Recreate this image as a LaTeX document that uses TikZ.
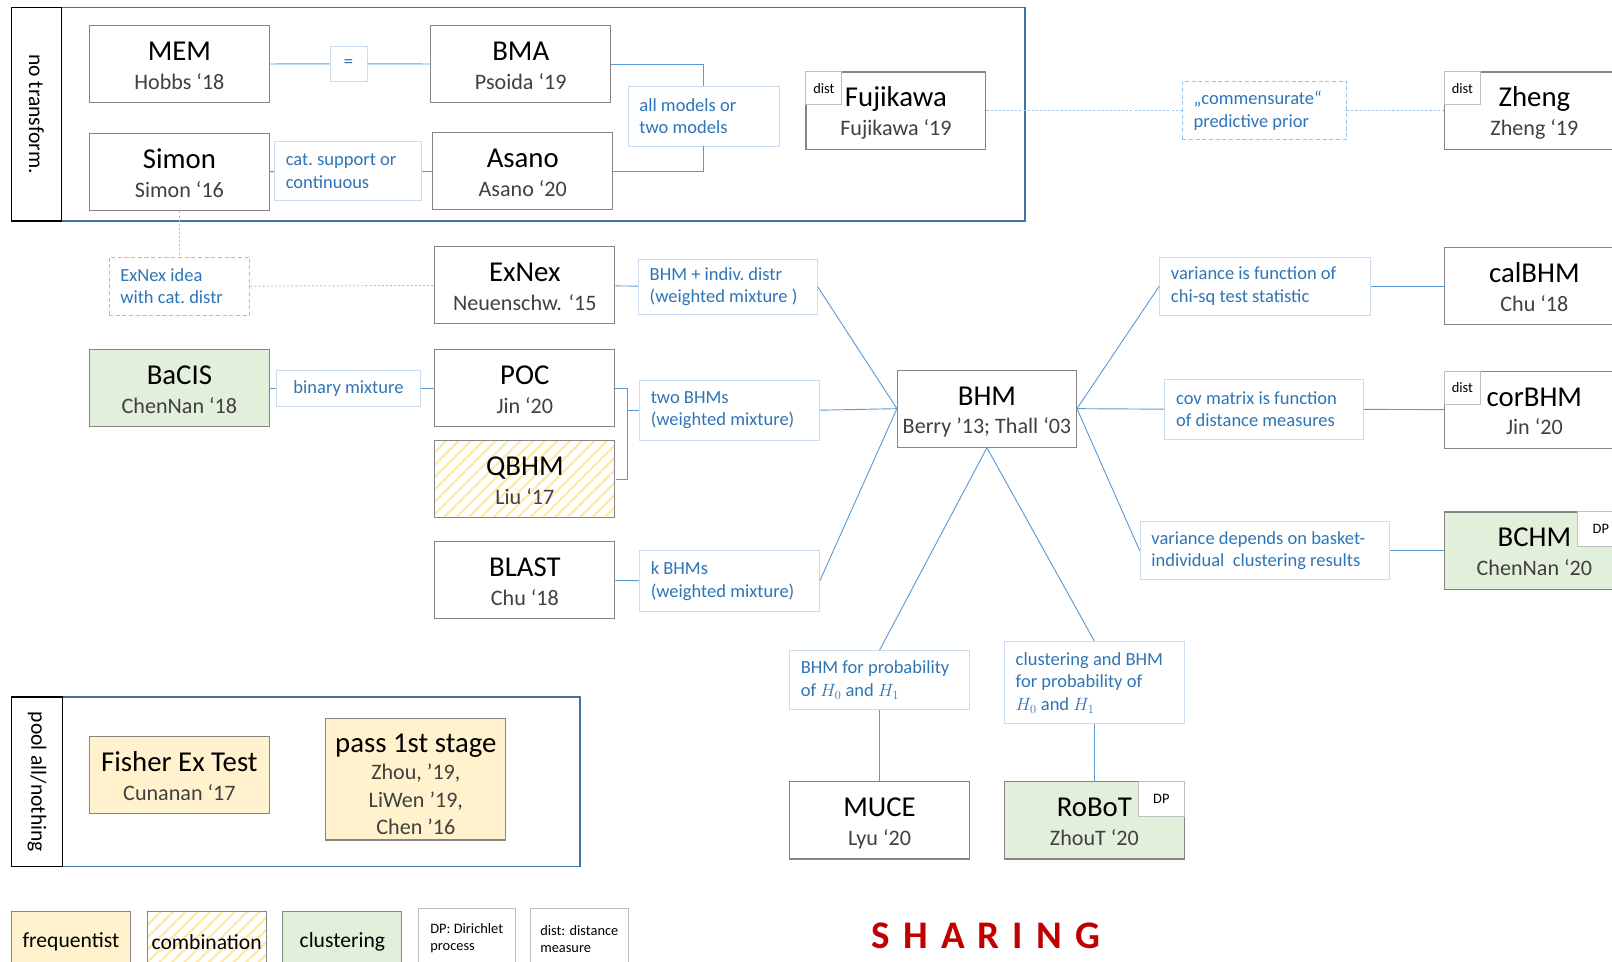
\documentclass[tikz,border=0pt]{standalone}
\usepackage{fontspec}
\setmainfont{Carlito}
\usepackage{xcolor}
\usepackage{tikz}
\usetikzlibrary{positioning,patterns.meta}

\definecolor{boxgrey}{HTML}{858585}
\definecolor{taggrey}{HTML}{BFBFBF}
\definecolor{subgrey}{HTML}{404040}
\definecolor{labblue}{HTML}{2E75B6}
\definecolor{labedge}{HTML}{CCDDF0}
\definecolor{linkblue}{HTML}{5B9BD5}
\definecolor{dashblue}{HTML}{9DC3E6}
\definecolor{frameblue}{HTML}{41719C}
\definecolor{clustgreen}{HTML}{E2EFDA}
\definecolor{freqyellow}{HTML}{FFF2CC}
\definecolor{hatchyellow}{HTML}{FFE9A6}
\definecolor{sharered}{HTML}{C00000}

\newcommand{\titlefont}{\fontsize{28}{28}\selectfont\color{black}}
\newcommand{\subfont}{\fontsize{21.5}{28}\selectfont}
% title line + year line of a model box
\newcommand{\boxtext}[2]{{\titlefont\rule{0pt}{25pt}#1}\\#2\rule[-4pt]{0pt}{4pt}}

\begin{document}
\begin{tikzpicture}[x=1pt,y=-1pt,
                      main node/.style={draw=boxgrey,line width=1.1pt,fill=white,minimum width=175pt,minimum height=75pt,
                                        align=center,inner sep=0pt,text=subgrey,font=\subfont},
                      green node/.style={main node,fill=clustgreen},
                      freq node/.style={main node,fill=freqyellow},
                      hatch fill/.style={preaction={fill=white},pattern={Lines[angle=45,distance=8.5pt,line width=2.2pt]},pattern color=hatchyellow},
                      tag node/.style={draw=taggrey,line width=0.9pt,fill=white,inner sep=0pt,text=black,font=\fontsize{14}{14}\selectfont},
                      note node/.style={draw=labedge,line width=0.9pt,fill=white,text=labblue,align=flush left,inner xsep=11pt,inner ysep=0pt,
                                        font=\fontsize{18}{22}\selectfont\frenchspacing},
                      dashed note/.style={note node,draw=dashblue,dash pattern=on 4pt off 2.5pt},
                      link/.style={draw=linkblue,line width=0.9pt},
                      dot link/.style={draw=dashblue,line width=0.9pt,dash pattern=on 2pt off 2pt},
                      frame/.style={draw=frameblue,line width=1.3pt},
                      side node/.style={draw=black,line width=1.3pt,rotate=-90,inner sep=0pt,font=\fontsize{21}{21}\selectfont},
                      legend node/.style={draw=boxgrey,line width=1pt,minimum width=116pt,minimum height=58pt,inner sep=0pt,
                                          font=\fontsize{21}{21}\selectfont}]
    \useasboundingbox (0,0) rectangle (1568,935);

    % groups
    \draw[frame] (11,7) rectangle (997,215);
    \draw[frame] (11,678) rectangle (564,843);
    \node[side node,minimum width=208pt,minimum height=49pt] (notrans) at (35.5,111) {no transform.};
    \node[side node,minimum width=165pt,minimum height=50pt] (poolall) at (36,760.5) {pool all/nothing};

    % models
    \node[main node] (mem) at (174.5,62.5) {\boxtext{MEM}{Hobbs ‘18}};
    \node[main node, below=29pt of mem] (simon) {\boxtext{Simon}{Simon ‘16}};
    \node[main node] (bma) at (506.5,62.5) {\boxtext{BMA}{Psoida ‘19}};
    \node[main node] (asano) at (508.5,166.5) {\boxtext{Asano}{Asano ‘20}};
    \node[main node] (fuji) at (871.5,107.5) {\boxtext{Fujikawa}{Fujikawa ‘19}};
    \node[main node] (zheng) at (1492.5,107.5) {\boxtext{Zheng}{Zheng ‘19}};

    \node[main node] (poc) at (510.5,377.5) {\boxtext{POC}{Jin ‘20}};
    \node[main node, above=24pt of poc] (exnex) {\boxtext{ExNex}{Neuenschw. ‘15}};
    \node[main node, hatch fill, below=12pt of poc] (qbhm) {\boxtext{QBHM}{Liu ‘17}};
    \node[main node] (blast) at (510.5,564.5) {\boxtext{BLAST}{Chu ‘18}};
    \node[green node] (bacis) at (174.5,377.5) {\boxtext{BaCIS}{ChenNan ‘18}};

    \node[main node,minimum width=174pt] (bhm) at (960,397.5) {\boxtext{BHM}{Berry ’13; Thall ‘03}};

    \node[main node] (calbhm) at (1492.5,278.5) {\boxtext{calBHM}{Chu ‘18}};
    \node[main node, below=44pt of calbhm] (corbhm) {\boxtext{corBHM}{Jin ‘20}};
    \node[green node] (bchm) at (1492.5,535.5) {\boxtext{BCHM}{ChenNan ‘20}};
    \node[main node] (muce) at (855.5,798) {\boxtext{MUCE}{Lyu ‘20}};
    \node[green node] (robot) at (1064.5,798) {\boxtext{RoBoT}{ZhouT ‘20}};

    \node[freq node] (fisher) at (174.5,754) {\boxtext{Fisher Ex Test}{Cunanan ‘17}};
    \node[freq node,minimum height=118pt,font=\fontsize{21.5}{26.5}\selectfont] (pass) at (404.5,758)
      {{\titlefont\rule{0pt}{31pt}pass 1st stage}\\Zhou, ’19,\\LiWen ’19,\\Chen ’16\rule[-3.5pt]{0pt}{3.5pt}};

    % dist / DP tags
    \node[tag node,anchor=north west,minimum width=35pt,minimum height=32pt] (fujidist) at (fuji.north west) {dist};
    \node[tag node,anchor=north west,minimum width=35pt,minimum height=32pt] (zhengdist) at (zheng.north west) {dist};
    \node[tag node,anchor=north west,minimum width=35pt,minimum height=32pt] (cordist) at (corbhm.north west) {dist};
    \node[tag node,anchor=north east,minimum width=46pt,minimum height=34pt] (bchmdp) at (bchm.north east) {DP};
    \node[tag node,anchor=north east,minimum width=45pt,minimum height=34pt] (robotdp) at (robot.north east) {DP};

    % notes
    \node[note node,align=center,minimum width=36pt,minimum height=34pt] (eq) at (339,62) {=};
    \node[note node,text width=121pt,minimum height=57pt] (catsup) at (338.5,166.5) {cat. support or\\continuous};
    \node[note node,text width=125pt,minimum height=58pt] (allmod) at (684.5,113) {all models or\\two models};
    \node[dashed note,text width=138pt,minimum height=57pt] (comm) at (1230,107.5) {„commensurate“\\predictive prior};
    \node[dashed note,text width=115pt,minimum height=57pt] (idea) at (174.5,278.5) {ExNex idea\\with cat. distr};
    \node[note node,text width=152pt,minimum height=54pt] (indiv) at (708,279) {BHM + indiv. distr\\(weighted mixture )};
    \node[note node,align=center,minimum width=140pt,minimum height=35pt] (binmix) at (339,377.5) {binary mixture};
    \node[note node,text width=153pt,minimum height=58pt] (twobhm) at (709.5,399) {two BHMs\\(weighted mixture)};
    \node[note node,text width=153pt,minimum height=60pt] (kbhm) at (709.5,565) {k BHMs\\(weighted mixture)};
    \node[note node,text width=183pt,minimum height=57pt] (varfun) at (1230.5,278.5) {variance is function of\\chi-sq test statistic};
    \node[note node,text width=171pt,minimum height=58pt] (covmat) at (1229.5,398) {cov matrix is function\\of distance measures};
    \node[note node,text width=221pt,minimum height=57pt] (vardep) at (1230.5,535.5) {variance depends on basket-\\individual\ \ clustering results};
    \node[note node,text width=153pt,minimum height=57pt] (prob) at (855.5,661.5) {BHM for probability\\of $H_0$ and $H_1$};
    \node[note node,text width=153pt,minimum height=80pt] (clus) at (1064.5,664) {clustering and BHM\\for probability of\\$H_0$ and $H_1$};

    \coordinate (pqjoin) at (610,399);

    % connectors
    \path[link]
      (mem) edge (eq)
      (eq) edge (bma)
      (simon) edge (catsup)
      (catsup) edge (asano)
      (exnex) edge (indiv)
      (bacis) edge (binmix)
      (binmix) edge (poc)
      (blast) edge (kbhm)
      (indiv.east) edge (bhm.west)
      (twobhm.east) edge (bhm.west)
      (kbhm.east) edge (bhm.west)
      (bhm.east) edge (varfun.west)
      (bhm.east) edge (covmat.west)
      (bhm.east) edge (vardep.west)
      (varfun) edge (calbhm)
      (covmat) edge (corbhm)
      (vardep) edge (bchm)
      (bhm.south) edge (prob.north)
      (bhm.south) edge (clus.north)
      (prob) edge (muce)
      (clus) edge (robot)
    ;
    \draw[link] (bma.east) -| (allmod.north);
    \draw[link] (asano.east) -| (allmod.south);
    \draw[link] (poc.east) -| (pqjoin) |- (qbhm.east);
    \draw[link] (pqjoin) -- (twobhm.west);

    \path[dot link]
      (fuji) edge (comm)
      (comm) edge (zheng)
      (simon) edge (idea)
      (idea) edge (exnex)
    ;

    % legend
    \node[legend node,fill=freqyellow] (lfreq) at (69,916) {frequentist};
    \node[legend node,hatch fill] (lcomb) at (201,916) {combination};
    \node[legend node,fill=clustgreen] (lclust) at (333,916) {clustering};
    \node[legend node,draw=taggrey,minimum width=94pt,align=left,font=\fontsize{14}{16.5}\selectfont] (ldp) at (454,913) {DP: Dirichlet\\process};
    \node[legend node,draw=taggrey,minimum width=95pt,align=left,font=\fontsize{14}{16.5}\selectfont] (ldist) at (563.5,913) {dist: distance\\measure};

    \node[text=sharered,font=\fontsize{38}{38}\selectfont\bfseries] (sharing) at (959,910)
      {S\kern12.7pt H\kern12.7pt A\kern12.7pt R\kern12.7pt I\kern12.7pt N\kern12.7pt G};

  \end{tikzpicture}
\end{document}
